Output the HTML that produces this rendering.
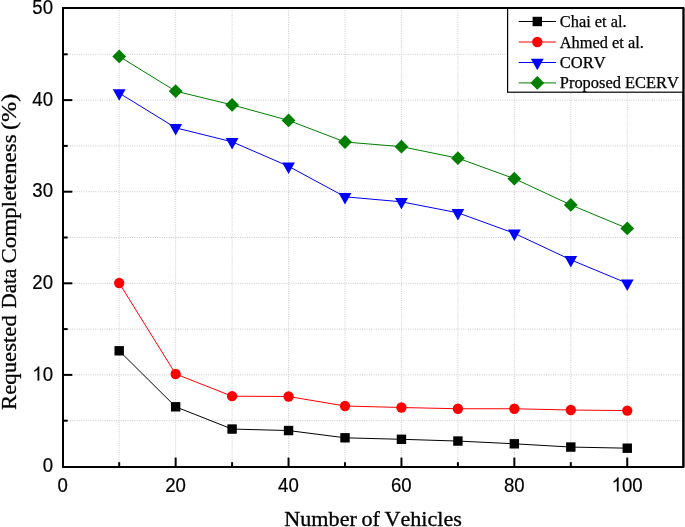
<!DOCTYPE html>
<html><head><meta charset="utf-8"><title>chart</title>
<style>
html,body{margin:0;padding:0;background:#fff;}
body{width:685px;height:527px;overflow:hidden;}
svg{display:block;will-change:transform;}
text{font-kerning:none;}
.tk{font-family:"Liberation Sans",sans-serif;font-size:18.6px;fill:#000;stroke:#000;stroke-width:0.2px;}
.lg{font-family:"Liberation Serif",serif;font-size:15.8px;fill:#000;stroke:#000;stroke-width:0.25px;}
.tt{font-family:"Liberation Serif",serif;font-size:22px;fill:#000;stroke:#000;stroke-width:0.3px;}
</style></head><body>
<svg width="685" height="527" viewBox="0 0 685 527">
<rect x="0" y="0" width="685" height="527" fill="#fff"/>
<g stroke="#cbcbcb" stroke-width="1" stroke-dasharray="1 1.3" fill="none">
<line x1="119.2" y1="8.05" x2="119.2" y2="466.9"/>
<line x1="175.65" y1="8.05" x2="175.65" y2="466.9"/>
<line x1="232.1" y1="8.05" x2="232.1" y2="466.9"/>
<line x1="288.55" y1="8.05" x2="288.55" y2="466.9"/>
<line x1="345" y1="8.05" x2="345" y2="466.9"/>
<line x1="401.45" y1="8.05" x2="401.45" y2="466.9"/>
<line x1="457.9" y1="8.05" x2="457.9" y2="466.9"/>
<line x1="514.35" y1="8.05" x2="514.35" y2="466.9"/>
<line x1="570.8" y1="8.05" x2="570.8" y2="466.9"/>
<line x1="627.25" y1="8.05" x2="627.25" y2="466.9"/>
<line x1="63" y1="420.7" x2="683.4" y2="420.7"/>
<line x1="63" y1="374.9" x2="683.4" y2="374.9"/>
<line x1="63" y1="329.1" x2="683.4" y2="329.1"/>
<line x1="63" y1="283.3" x2="683.4" y2="283.3"/>
<line x1="63" y1="237.5" x2="683.4" y2="237.5"/>
<line x1="63" y1="191.7" x2="683.4" y2="191.7"/>
<line x1="63" y1="145.9" x2="683.4" y2="145.9"/>
<line x1="63" y1="100.1" x2="683.4" y2="100.1"/>
<line x1="63" y1="54.3" x2="683.4" y2="54.3"/>
</g>
<polyline points="119.2,350.8 175.65,406.8 232.1,429.05 288.55,430.55 345,437.8 401.45,439.3 457.9,441.05 514.35,443.8 570.8,447.05 627.25,448.2" fill="none" stroke="#000000" stroke-width="1.0"/>
<rect x="114.5" y="346.1" width="9.4" height="9.4" fill="#000000"/><rect x="170.95" y="402.1" width="9.4" height="9.4" fill="#000000"/><rect x="227.4" y="424.35" width="9.4" height="9.4" fill="#000000"/><rect x="283.85" y="425.85" width="9.4" height="9.4" fill="#000000"/><rect x="340.3" y="433.1" width="9.4" height="9.4" fill="#000000"/><rect x="396.75" y="434.6" width="9.4" height="9.4" fill="#000000"/><rect x="453.2" y="436.35" width="9.4" height="9.4" fill="#000000"/><rect x="509.65" y="439.1" width="9.4" height="9.4" fill="#000000"/><rect x="566.1" y="442.35" width="9.4" height="9.4" fill="#000000"/><rect x="622.55" y="443.5" width="9.4" height="9.4" fill="#000000"/>
<polyline points="119.2,283 175.65,374 232.1,396.2 288.55,396.5 345,406 401.45,407.5 457.9,408.75 514.35,408.75 570.8,410 627.25,410.6" fill="none" stroke="#ff0000" stroke-width="1.0"/>
<circle cx="119.2" cy="283" r="5.15" fill="#ff0000"/><circle cx="175.65" cy="374" r="5.15" fill="#ff0000"/><circle cx="232.1" cy="396.2" r="5.15" fill="#ff0000"/><circle cx="288.55" cy="396.5" r="5.15" fill="#ff0000"/><circle cx="345" cy="406" r="5.15" fill="#ff0000"/><circle cx="401.45" cy="407.5" r="5.15" fill="#ff0000"/><circle cx="457.9" cy="408.75" r="5.15" fill="#ff0000"/><circle cx="514.35" cy="408.75" r="5.15" fill="#ff0000"/><circle cx="570.8" cy="410" r="5.15" fill="#ff0000"/><circle cx="627.25" cy="410.6" r="5.15" fill="#ff0000"/>
<polyline points="119.2,93.1 175.65,127.8 232.1,141.8 288.55,166.3 345,196.8 401.45,201.8 457.9,212.8 514.35,233.3 570.8,259.8 627.25,283.3" fill="none" stroke="#0000ff" stroke-width="1.0"/>
<polygon points="112.8,89.27 125.6,89.27 119.2,100.77" fill="#0000ff"/><polygon points="169.25,123.97 182.05,123.97 175.65,135.47" fill="#0000ff"/><polygon points="225.7,137.97 238.5,137.97 232.1,149.47" fill="#0000ff"/><polygon points="282.15,162.47 294.95,162.47 288.55,173.97" fill="#0000ff"/><polygon points="338.6,192.97 351.4,192.97 345,204.47" fill="#0000ff"/><polygon points="395.05,197.97 407.85,197.97 401.45,209.47" fill="#0000ff"/><polygon points="451.5,208.97 464.3,208.97 457.9,220.47" fill="#0000ff"/><polygon points="507.95,229.47 520.75,229.47 514.35,240.97" fill="#0000ff"/><polygon points="564.4,255.97 577.2,255.97 570.8,267.47" fill="#0000ff"/><polygon points="620.85,279.47 633.65,279.47 627.25,290.97" fill="#0000ff"/>
<polyline points="119.2,56.4 175.65,91.15 232.1,104.9 288.55,120.4 345,142 401.45,146.65 457.9,158.15 514.35,178.65 570.8,204.9 627.25,228.4" fill="none" stroke="#007f00" stroke-width="1.0"/>
<polygon points="119.2,49.5 126.1,56.4 119.2,63.3 112.3,56.4" fill="#007f00"/><polygon points="175.65,84.25 182.55,91.15 175.65,98.05 168.75,91.15" fill="#007f00"/><polygon points="232.1,98 239,104.9 232.1,111.8 225.2,104.9" fill="#007f00"/><polygon points="288.55,113.5 295.45,120.4 288.55,127.3 281.65,120.4" fill="#007f00"/><polygon points="345,135.1 351.9,142 345,148.9 338.1,142" fill="#007f00"/><polygon points="401.45,139.75 408.35,146.65 401.45,153.55 394.55,146.65" fill="#007f00"/><polygon points="457.9,151.25 464.8,158.15 457.9,165.05 451,158.15" fill="#007f00"/><polygon points="514.35,171.75 521.25,178.65 514.35,185.55 507.45,178.65" fill="#007f00"/><polygon points="570.8,198 577.7,204.9 570.8,211.8 563.9,204.9" fill="#007f00"/><polygon points="627.25,221.5 634.15,228.4 627.25,235.3 620.35,228.4" fill="#007f00"/>
<g stroke="#000" stroke-width="2" fill="none">
<line x1="119.2" y1="466.9" x2="119.2" y2="462.2"/>
<line x1="175.65" y1="466.9" x2="175.65" y2="457.6"/>
<line x1="232.1" y1="466.9" x2="232.1" y2="462.2"/>
<line x1="288.55" y1="466.9" x2="288.55" y2="457.6"/>
<line x1="345" y1="466.9" x2="345" y2="462.2"/>
<line x1="401.45" y1="466.9" x2="401.45" y2="457.6"/>
<line x1="457.9" y1="466.9" x2="457.9" y2="462.2"/>
<line x1="514.35" y1="466.9" x2="514.35" y2="457.6"/>
<line x1="570.8" y1="466.9" x2="570.8" y2="462.2"/>
<line x1="627.25" y1="466.9" x2="627.25" y2="457.6"/>
<line x1="63" y1="420.7" x2="67.7" y2="420.7"/>
<line x1="63" y1="374.9" x2="72.3" y2="374.9"/>
<line x1="63" y1="329.1" x2="67.7" y2="329.1"/>
<line x1="63" y1="283.3" x2="72.3" y2="283.3"/>
<line x1="63" y1="237.5" x2="67.7" y2="237.5"/>
<line x1="63" y1="191.7" x2="72.3" y2="191.7"/>
<line x1="63" y1="145.9" x2="67.7" y2="145.9"/>
<line x1="63" y1="100.1" x2="72.3" y2="100.1"/>
<line x1="63" y1="54.3" x2="67.7" y2="54.3"/>
</g>
<rect x="63" y="8.05" width="620.4" height="458.85" fill="none" stroke="#000" stroke-width="2.0" stroke-linejoin="round"/>
<rect x="507.6" y="8.05" width="175.8" height="84.15" fill="#fff" stroke="#000" stroke-width="1.2"/>
<rect x="63" y="8.05" width="620.4" height="458.85" fill="none" stroke="#000" stroke-width="2.0" stroke-linejoin="round"/>
<line x1="518.7" y1="21.5" x2="555.9" y2="21.5" stroke="#000000" stroke-width="1.0"/><rect x="532.6" y="16.8" width="9.4" height="9.4" fill="#000000"/><text class="lg" x="559.8" y="27" textLength="66.8" lengthAdjust="spacingAndGlyphs">Chai et al.</text>
<line x1="518.7" y1="42" x2="555.9" y2="42" stroke="#ff0000" stroke-width="1.0"/><circle cx="537.3" cy="42" r="5.15" fill="#ff0000"/><text class="lg" x="559.8" y="47.5" textLength="84.0" lengthAdjust="spacingAndGlyphs">Ahmed et al.</text>
<line x1="518.7" y1="62.5" x2="555.9" y2="62.5" stroke="#0000ff" stroke-width="1.0"/><polygon points="530.9,58.67 543.7,58.67 537.3,70.17" fill="#0000ff"/><text class="lg" x="559.8" y="67.7" textLength="45.9" lengthAdjust="spacingAndGlyphs">CORV</text>
<line x1="518.7" y1="82.9" x2="555.9" y2="82.9" stroke="#007f00" stroke-width="1.0"/><polygon points="537.3,76 544.2,82.9 537.3,89.8 530.4,82.9" fill="#007f00"/><text class="lg" x="559.8" y="88" textLength="119.0" lengthAdjust="spacingAndGlyphs">Proposed ECERV</text>
<g transform="translate(57.48,491.5) scale(1,1.04)"><text class="tk" x="0" y="0">0</text></g><g transform="translate(165.21,491.5) scale(1,1.04)"><text class="tk" x="0" y="0">2</text><text class="tk" x="10.34" y="0">0</text></g><g transform="translate(278.11,491.5) scale(1,1.04)"><text class="tk" x="0" y="0">4</text><text class="tk" x="10.34" y="0">0</text></g><g transform="translate(391.01,491.5) scale(1,1.04)"><text class="tk" x="0" y="0">6</text><text class="tk" x="10.34" y="0">0</text></g><g transform="translate(503.91,491.5) scale(1,1.04)"><text class="tk" x="0" y="0">8</text><text class="tk" x="10.34" y="0">0</text></g><g transform="translate(611.63,491.5) scale(1,1.04)"><path transform="translate(0,0) scale(0.009082,-0.009082)" d="M763 0H583V1147Q518 1085 412.5 1023Q307 961 223 930V1104Q374 1175 487 1276Q600 1377 647 1472H763Z" fill="#000" stroke="#000" stroke-width="20"/><text class="tk" x="10.34" y="0">0</text><text class="tk" x="20.69" y="0">0</text></g><g transform="translate(42.66,472.1) scale(1,1.04)"><text class="tk" x="0" y="0">0</text></g><g transform="translate(32.31,380.5) scale(1,1.04)"><path transform="translate(0,0) scale(0.009082,-0.009082)" d="M763 0H583V1147Q518 1085 412.5 1023Q307 961 223 930V1104Q374 1175 487 1276Q600 1377 647 1472H763Z" fill="#000" stroke="#000" stroke-width="20"/><text class="tk" x="10.34" y="0">0</text></g><g transform="translate(32.31,288.9) scale(1,1.04)"><text class="tk" x="0" y="0">2</text><text class="tk" x="10.34" y="0">0</text></g><g transform="translate(32.31,197.3) scale(1,1.04)"><text class="tk" x="0" y="0">3</text><text class="tk" x="10.34" y="0">0</text></g><g transform="translate(32.31,105.7) scale(1,1.04)"><text class="tk" x="0" y="0">4</text><text class="tk" x="10.34" y="0">0</text></g><g transform="translate(32.31,14.1) scale(1,1.04)"><text class="tk" x="0" y="0">5</text><text class="tk" x="10.34" y="0">0</text></g>
<text class="tt" style="font-size:20.3px;word-spacing:-0.9px" x="284.3" y="525.6" textLength="177.6" lengthAdjust="spacingAndGlyphs">Number of Vehicles</text>
<text class="tt" style="font-size:21.3px" transform="translate(15.8,409.96) rotate(-90)" textLength="94.73" lengthAdjust="spacingAndGlyphs">Requested</text>
<text class="tt" style="font-size:21.3px" transform="translate(15.8,308.51) rotate(-90)" textLength="39.8" lengthAdjust="spacingAndGlyphs">Data</text>
<text class="tt" style="font-size:21.3px" transform="translate(15.8,263.54) rotate(-90)" textLength="129.18" lengthAdjust="spacingAndGlyphs">Completeness</text>
<text class="tt" style="font-size:21.3px" transform="translate(15.8,129.98) rotate(-90)" textLength="36.2" lengthAdjust="spacingAndGlyphs">(%)</text>
</svg>
</body></html>
